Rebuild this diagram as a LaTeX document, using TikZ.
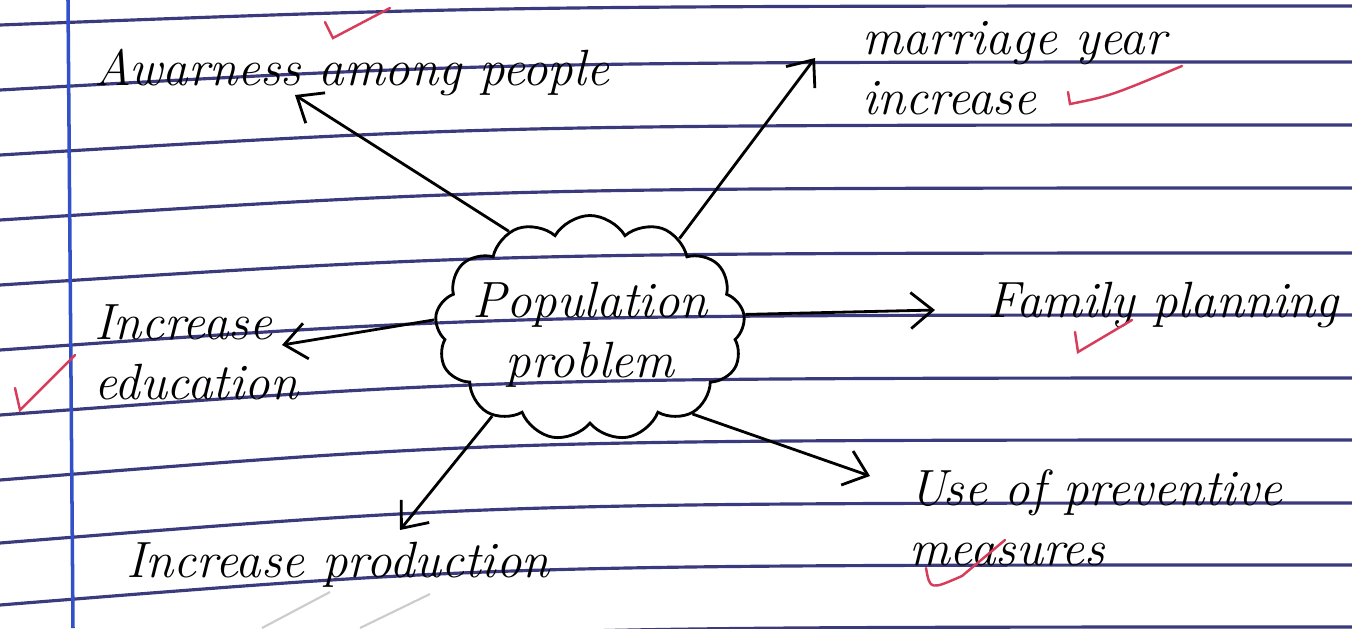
\documentclass[tikz,border=0pt]{standalone}
\usepackage{tikz}
\usetikzlibrary{arrows.meta, positioning, shapes.symbols}

\definecolor{ruleblue}{RGB}{58,58,125}
\definecolor{marginblue}{RGB}{50,80,200}
\definecolor{tickred}{RGB}{215,60,90}

\newcommand{\cloudtext}[1]{\makebox[0pt]{\smash{\raisebox{-2mm}{\begin{tabular}{@{}c@{}}#1\end{tabular}}}}}

\begin{document}
\begin{tikzpicture}[
    x=0.1mm, y=-0.1mm,
    link/.style={-{Straight Barb[length=2.2mm, width=3.6mm]}, thick},
    ruleline/.style={ruleblue, line width=0.9pt},
    hand/.style={font=\fontsize{14.5}{17}\selectfont\itshape, inner sep=1pt},
    popcloud/.style={cloud, cloud puffs=13, cloud puff arc=120, cloud ignores aspect,
        draw, thick, inner sep=0pt, minimum width=31mm, minimum height=22.5mm},
    tick/.style={tickred, line width=0.7pt, line cap=round}
]

% Page
\fill[white] (0,0) rectangle (1352,628);
\useasboundingbox (0,0) rectangle (1352,628);

% Ruled lines and margin
\foreach \yl/\yr in {25/6, 90/62, 155/125, 220/188, 285/253, 350/315,
                     415/378, 480/440, 543/503, 605/565, 668/627}
    \draw[ruleline] (0,\yl) .. controls (500,\yr) .. (1352,\yr);
\draw[marginblue, line width=1pt] (68,0) -- (73,628);

% Centre
\node[popcloud, hand] (pop) at (590,328) {\cloudtext{Population\\problem}};

% Labels
\node[hand] (aware) at (352,72) {Awarness among people};
\node[hand, anchor=west, align=left] (marriage) at (858,68) {marriage year\\increase};
\node[hand] (family) at (1163,305) {Family planning};
\node[hand, anchor=west, align=left] (educ) at (90,352) {Increase\\education};
\node[hand, anchor=west, align=left] (prevent) at (905,518) {Use of preventive\\measures};
\node[hand] (prod) at (338,565) {Increase production};

% Arrow tips
\coordinate (awareTip) at (295,95);
\coordinate (marriageTip) at (815,58);
\coordinate (familyTip) at (935,310);
\coordinate (educTip) at (282,345);
\coordinate (preventTip) at (870,476);
\coordinate (prodTip) at (400,530);

\draw[link] (pop.130) -- (awareTip);
\draw[link] (pop.45) -- (marriageTip);
\draw[link] (pop.5) -- (familyTip);
\draw[link] (pop.177) -- (educTip);
\draw[link] (pop.-40) -- (preventTip);
\draw[link] (pop.-138) -- (prodTip);

% Red ticks
\draw[tick] (325,22) -- (333,38) -- (390,8);
\draw[tick] (1068,92) -- (1070,104) .. controls (1110,96) .. (1182,66);
\draw[tick] (1075,332) -- (1078,352) -- (1132,320);
\draw[tick] (15,388) -- (20,410) -- (75,355);
\draw[tick] (926,568) .. controls (930,590) .. (962,576) -- (1005,540);

% Faint pencil strokes
\draw[gray!40, line width=0.6pt] (262,628) -- (330,592);
\draw[gray!40, line width=0.6pt] (360,628) -- (430,594);

\end{tikzpicture}
\end{document}
